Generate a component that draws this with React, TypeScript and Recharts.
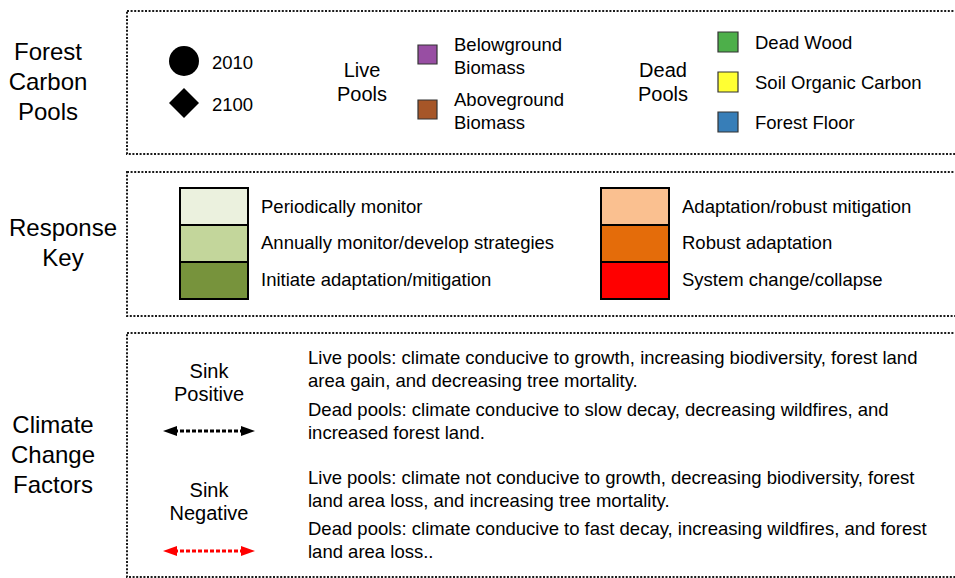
import { ComposedChart, XAxis, YAxis, ReferenceArea, ReferenceDot, ReferenceLine } from "recharts";

const W = 955;
const H = 578;
const FONT = "'Liberation Sans', Arial, Helvetica, sans-serif";

// section headings on the left
const sectionTitles = [
  ["Forest", "Carbon", "Pools"],
  ["Response", "Key"],
  ["Climate", "Change", "Factors"],
];

// carbon pool key
const yearLabels = ["2010", "2100"];
const yearShapes = ["circle", "diamond"];
const liveTitle = ["Live", "Pools"];
const livePoolLabels = [
  ["Belowground", "Biomass"],
  ["Aboveground", "Biomass"],
];
const livePoolColors = ["#984ea3", "#a65628"];
const deadTitle = ["Dead", "Pools"];
const deadPoolLabels = ["Dead Wood", "Soil Organic Carbon", "Forest Floor"];
const deadPoolColors = ["#4daf4a", "#ffff33", "#377eb8"];

// response key
const monitorLabels = [
  "Periodically monitor",
  "Annually monitor/develop strategies",
  "Initiate adaptation/mitigation",
];
const monitorColors = ["#ebf1de", "#c3d69b", "#77933c"];
const adaptLabels = ["Adaptation/robust mitigation", "Robust adaptation", "System change/collapse"];
const adaptColors = ["#fac090", "#e46c0a", "#ff0000"];

// climate change factors
const sinkLabels = [
  ["Sink", "Positive"],
  ["Sink", "Negative"],
];
const sinkColors = ["#000000", "#ff0000"];
const sinkTexts = [
  [
    ["Live pools: climate conducive to growth, increasing biodiversity, forest land", "area gain, and decreasing tree mortality."],
    ["Dead pools: climate conducive to slow decay, decreasing wildfires, and", "increased forest land."],
  ],
  [
    ["Live pools: climate not conducive to growth, decreasing biodiversity, forest", "land area loss, and increasing tree mortality."],
    ["Dead pools: climate conducive to fast decay, increasing wildfires, and forest", "land area loss.."],
  ],
];

const label = (
  key: string,
  x: number,
  y: number,
  value: string,
  size: number,
  anchor: "start" | "middle" = "start"
) => (
  <ReferenceDot
    key={key}
    x={x}
    y={y}
    r={0}
    ifOverflow="visible"
    shape={(p: any) => (
      <text
        x={p.cx}
        y={p.cy}
        fontFamily={FONT}
        fontSize={size}
        fill="#000"
        textAnchor={anchor}
        dominantBaseline="central"
      >
        {value}
      </text>
    )}
  />
);

const marker = (key: string, x: number, y: number, kind: string, size: number, color: string, dir = 1) => (
  <ReferenceDot
    key={key}
    x={x}
    y={y}
    r={0}
    ifOverflow="visible"
    shape={(p: any) => {
      const { cx, cy } = p;
      if (kind === "circle") return <circle cx={cx} cy={cy} r={size} fill={color} />;
      if (kind === "diamond")
        return (
          <polygon
            points={`${cx},${cy - size} ${cx + size},${cy} ${cx},${cy + size} ${cx - size},${cy}`}
            fill={color}
          />
        );
      // arrow head, tip at (cx, cy)
      const b = cx - dir * 14;
      return <polygon points={`${cx},${cy} ${b},${cy - 5} ${b},${cy + 5}`} fill={color} />;
    }}
  />
);

const panel = (key: string, y1: number, y2: number) => (
  <ReferenceArea
    key={key}
    x1={127}
    x2={970}
    y1={y1}
    y2={y2}
    ifOverflow="visible"
    fill="none"
    stroke="#1a1a1a"
    strokeWidth={2}
    strokeDasharray="2 1.6"
  />
);

const swatch = (key: string, x1: number, x2: number, y1: number, y2: number, color: string, sw: number) => (
  <ReferenceArea
    key={key}
    x1={x1}
    x2={x2}
    y1={y1}
    y2={y2}
    ifOverflow="visible"
    fill={color}
    fillOpacity={1}
    stroke={sw > 1.5 ? "#000" : "#333"}
    strokeWidth={sw}
  />
);

export default function App() {
  const titleX = [48, 63, 53];
  const titleY = [51, 227, 424];

  const items: any[] = [];

  sectionTitles.forEach((lines, s) =>
    lines.forEach((t, i) => items.push(label(`st${s}${i}`, titleX[s], titleY[s] + i * 30, t, 24, "middle")))
  );

  // carbon pools panel
  yearLabels.forEach((t, i) => {
    const y = 61 + i * 42;
    items.push(marker(`ym${i}`, 184, y, yearShapes[i], 15, "#000"));
    items.push(label(`yl${i}`, 212, y + 1, t, 18.5));
  });
  liveTitle.forEach((t, i) => items.push(label(`lt${i}`, 362, 70 + i * 24, t, 20, "middle")));
  livePoolLabels.forEach((lines, i) => {
    const top = 45 + i * 55;
    items.push(swatch(`ls${i}`, 418, 437, top, top + 19, livePoolColors[i], 1.2));
    lines.forEach((t, j) => items.push(label(`ll${i}${j}`, 454, 44 + i * 55 + j * 23, t, 18.5)));
  });
  deadTitle.forEach((t, i) => items.push(label(`dt${i}`, 663, 70 + i * 24, t, 20, "middle")));
  deadPoolLabels.forEach((t, i) => {
    const top = 32 + i * 40;
    items.push(swatch(`ds${i}`, 718, 738, top, top + 20, deadPoolColors[i], 1.2));
    items.push(label(`dl${i}`, 755, top + 10, t, 18.5));
  });

  // response key panel
  monitorLabels.forEach((t, i) => {
    const top = 188 + i * 37;
    items.push(swatch(`ms${i}`, 180, 248, top, top + 37, monitorColors[i], 2));
    items.push(label(`ml${i}`, 261, 206 + i * 36.5, t, 18.5));
  });
  adaptLabels.forEach((t, i) => {
    const top = 188 + i * 37;
    items.push(swatch(`as${i}`, 601, 669, top, top + 37, adaptColors[i], 2));
    items.push(label(`al${i}`, 682, 206 + i * 36.5, t, 18.5));
  });

  // climate change factors panel
  sinkLabels.forEach((lines, s) => {
    const base = s * 119;
    lines.forEach((t, i) => items.push(label(`sk${s}${i}`, 209, 371 + base + i * 23, t, 20, "middle")));
    const ay = 431 + s * 120;
    items.push(
      <ReferenceLine
        key={`sa${s}`}
        segment={[
          { x: 174, y: ay },
          { x: 243, y: ay },
        ]}
        ifOverflow="visible"
        stroke={sinkColors[s]}
        strokeWidth={3}
        strokeDasharray="4 2"
      />
    );
    items.push(marker(`sh${s}a`, 163, ay, "arrow", 0, sinkColors[s], -1));
    items.push(marker(`sh${s}b`, 255, ay, "arrow", 0, sinkColors[s], 1));
    sinkTexts[s].forEach((para, p) =>
      para.forEach((t, j) =>
        items.push(label(`sx${s}${p}${j}`, 308, 357 + s * 120 + p * 52 + j * 23 - (s && p ? 1 : 0), t, 18.5))
      )
    );
  });

  return (
    <div style={{ position: "absolute", left: 0, top: 0, width: W, height: H, background: "#fff" }}>
      <ComposedChart width={W} height={H} data={[]} margin={{ top: 0, right: 0, bottom: 0, left: 0 }}>
        <XAxis type="number" dataKey="x" domain={[0, W]} hide allowDataOverflow />
        <YAxis type="number" dataKey="y" domain={[0, H]} reversed hide allowDataOverflow />
        {panel("p1", 11, 154)}
        {panel("p2", 172, 316)}
        {panel("p3", 333, 577)}
        {items}
      </ComposedChart>
    </div>
  );
}
